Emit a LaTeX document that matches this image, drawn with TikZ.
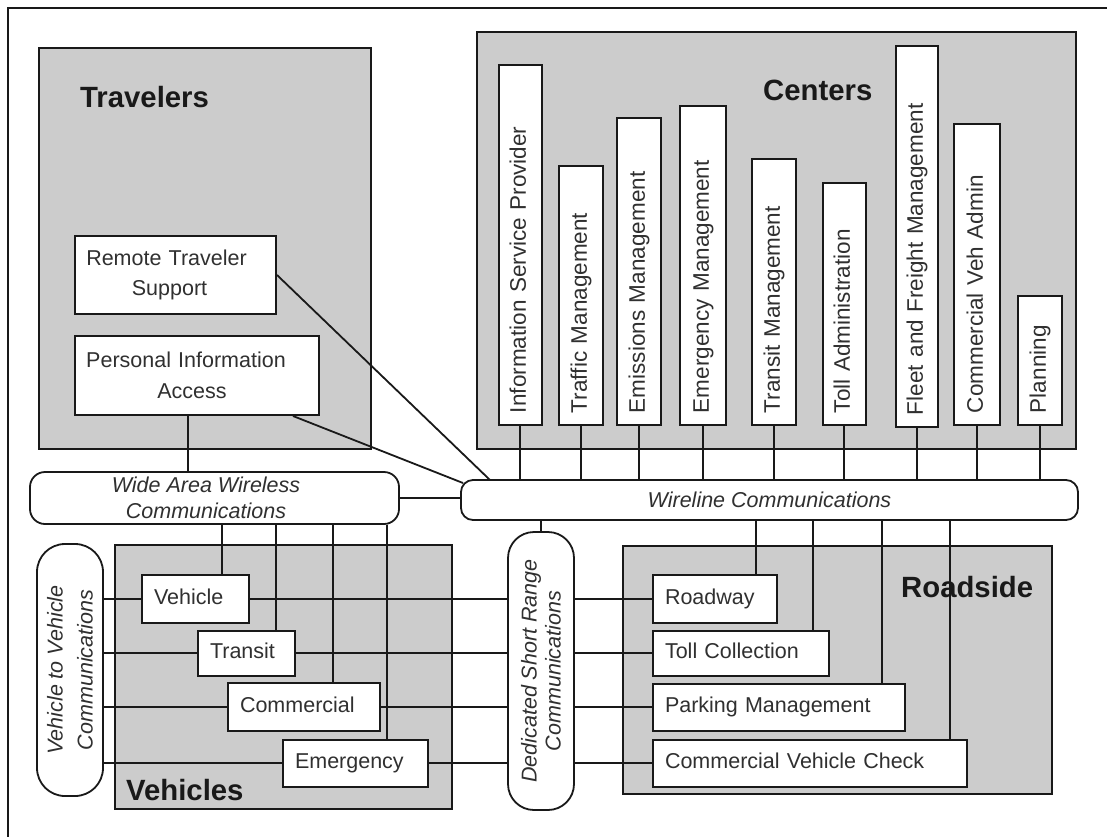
\documentclass[tikz,border=0pt]{standalone}
\usepackage{fontspec}
\setmainfont{Liberation Sans}
\definecolor{grpfill}{RGB}{204,204,204}
\definecolor{ink}{RGB}{25,25,25}
\newcommand{\padr}[1]{\rule{#1}{0pt}}
\begin{document}
\begin{tikzpicture}[x=1pt,y={(0pt,-1pt)},
  group/.style={draw=ink, line width=2pt, fill=grpfill, inner sep=0pt},
  title/.style={font=\fontsize{29.3}{32}\selectfont\bfseries, anchor=base west, inner sep=0pt, text=ink},
  box/.style={draw=ink, line width=2pt, fill=white, inner ysep=0pt, inner xsep=12pt, align=left,
              font=\fontsize{21.5}{26}\selectfont, text=ink!90, text height=15.5pt, text depth=4.5pt},
  vbox/.style={box, rotate=90, font=\fontsize{22.5}{26}\selectfont, text height=16pt, text depth=4.5pt},
  tbox/.style={draw=ink, line width=2pt, fill=white, inner sep=0pt, align=center, text=ink!90},
  comm/.style={draw=ink, line width=1.8pt, fill=white, rounded corners=#1, align=center,
               inner sep=0pt, text=ink!90},
  link/.style={draw=ink, line width=1.8pt}]
\useasboundingbox (0,0) rectangle (1107,836);
\clip (0,0) rectangle (1107,836);
\fill[white] (0,0) rectangle (1107,836);
% outer frame
\draw[ink, line width=1.6pt] (8,900) -- (8,8) -- (1200,8);

% groups
\node[group, minimum width=332pt, minimum height=401pt] (travelers) at (205,248.5) {};
\node[group, minimum width=599pt, minimum height=417pt] (centers) at (776.5,240.5) {};
\node[group, minimum width=337pt, minimum height=264pt] (vehicles) at (283.5,677) {};
\node[group, minimum width=429pt, minimum height=248pt] (roadside) at (837.5,670) {};

\node[title] (tTrav) at (80,107) {Travelers};
\node[title] (tCent) at (763,100) {Centers};
\node[title] (tVeh) at (126,800) {Vehicles};
\node[title] (tRoad) at (901,597) {Roadside};

% travelers
\node[tbox, text width=201pt, minimum height=78pt, font=\fontsize{21.5}{30}\selectfont] (rts) at (175.5,275)
  {Remote Traveler\padr{18pt}\\Support\padr{12pt}};
\node[tbox, text width=244pt, minimum height=79pt, font=\fontsize{21.5}{31}\selectfont] (pia) at (197,375.5)
  {Personal Information\padr{22pt}\\Access\padr{10pt}};

% centers
\node[vbox, minimum width=360pt, minimum height=43pt, text width=336pt] (isp) at (520,245) {Information Service Provider};
\node[vbox, minimum width=259pt, minimum height=44pt, text width=235pt] (tm) at (581,295.5) {Traffic Management};
\node[vbox, minimum width=307pt, minimum height=44pt, text width=283pt] (em) at (639,271.5) {Emissions Management};
\node[vbox, minimum width=319pt, minimum height=46pt, text width=295pt] (emm) at (703,265.5) {Emergency Management};
\node[vbox, minimum width=266pt, minimum height=44pt, text width=242pt] (trm) at (774,292) {Transit Management};
\node[vbox, minimum width=242pt, minimum height=43pt, text width=218pt] (ta) at (844,304) {Toll Administration};
\node[vbox, minimum width=381pt, minimum height=42pt, text width=357pt] (ffm) at (917,236.5) {Fleet and Freight Management};
\node[vbox, minimum width=301pt, minimum height=46pt, text width=277pt] (cva) at (977,274.5) {Commercial Veh Admin};
\node[vbox, minimum width=129pt, minimum height=44pt, text width=105pt] (plan) at (1040,360.5) {Planning};

% communications
\node[comm=15pt, minimum width=369pt, minimum height=52pt, font=\fontsize{21.5}{26}\selectfont\itshape] (waw) at (214.5,498)
  {Wide Area Wireless\padr{17pt}\\Communications\padr{17pt}};
\node[comm=12pt, minimum width=617pt, minimum height=40pt, font=\fontsize{21.5}{26}\selectfont\itshape] (wire) at (769.5,500)
  {Wireline Communications};
\node[comm=28pt, rotate=90, minimum width=252pt, minimum height=66pt, font=\fontsize{21.5}{30}\selectfont\itshape] (v2v) at (70,670)
  {Vehicle to Vehicle\\Communications};
\node[comm=26pt, rotate=90, minimum width=278pt, minimum height=66pt, font=\fontsize{21.5}{24}\selectfont\itshape] (dsrc) at (541,671)
  {Dedicated Short Range\\Communications};

% vehicles
\node[box, minimum width=107pt, minimum height=48pt, text width=83pt] (veh) at (195.5,599) {Vehicle};
\node[box, minimum width=97pt, minimum height=45pt, text width=73pt] (tran) at (246.5,653) {Transit};
\node[box, minimum width=152pt, minimum height=48pt, text width=128pt] (comv) at (304,707) {Commercial};
\node[box, minimum width=145pt, minimum height=47pt, text width=121pt] (emer) at (355.5,763) {Emergency};

% roadside
\node[box, minimum width=124pt, minimum height=48pt, text width=100pt] (road) at (715,599) {Roadway};
\node[box, minimum width=176pt, minimum height=45pt, text width=152pt] (toll) at (741,653) {Toll Collection};
\node[box, minimum width=252pt, minimum height=47pt, text width=228pt] (park) at (779,707) {Parking Management};
\node[box, minimum width=314pt, minimum height=47pt, text width=290pt] (cvc) at (810,763) {Commercial Vehicle Check};

% helper coordinates
\coordinate (xpia) at (188,0);
\coordinate (xpd) at (293,0);
\coordinate (w1) at (490,480);
\coordinate (w2) at (463,483);
\coordinate (vx1) at (222,0);
\coordinate (vx2) at (276,0);
\coordinate (vx3) at (333,0);
\coordinate (vx4) at (387,0);
\coordinate (rx1) at (756,0);
\coordinate (rx2) at (813,0);
\coordinate (rx3) at (882,0);
\coordinate (rx4) at (950,0);

% connectors
\draw[link] (pia.south -| xpia) -- (waw.north -| xpia);
\draw[link] (rts.east) -- (w1);
\draw[link] (pia.south -| xpd) -- (w2);
\draw[link] (waw.east) -- (waw.east -| wire.west);
\foreach \b in {isp,tm,em,emm,trm,ta,ffm,cva,plan}
  \draw[link] (\b.west) -- (\b.west |- wire.north);
\draw[link] (dsrc.east |- wire.south) -- (dsrc.east);
\draw[link] (waw.south -| vx1) -- (veh.north -| vx1);
\draw[link] (waw.south -| vx2) -- (tran.north -| vx2);
\draw[link] (waw.south -| vx3) -- (comv.north -| vx3);
\draw[link] (waw.south -| vx4) -- (emer.north -| vx4);
\draw[link] (wire.south -| rx1) -- (road.north -| rx1);
\draw[link] (wire.south -| rx2) -- (toll.north -| rx2);
\draw[link] (wire.south -| rx3) -- (park.north -| rx3);
\draw[link] (wire.south -| rx4) -- (cvc.north -| rx4);
\foreach \v/\r in {veh/road,tran/toll,comv/park,emer/cvc}{
  \draw[link] (v2v.south |- \v.west) -- (\v.west);
  \draw[link] (\v.east) -- (dsrc.north |- \v.east);
  \draw[link] (dsrc.south |- \r.west) -- (\r.west);
}
\end{tikzpicture}
\end{document}
